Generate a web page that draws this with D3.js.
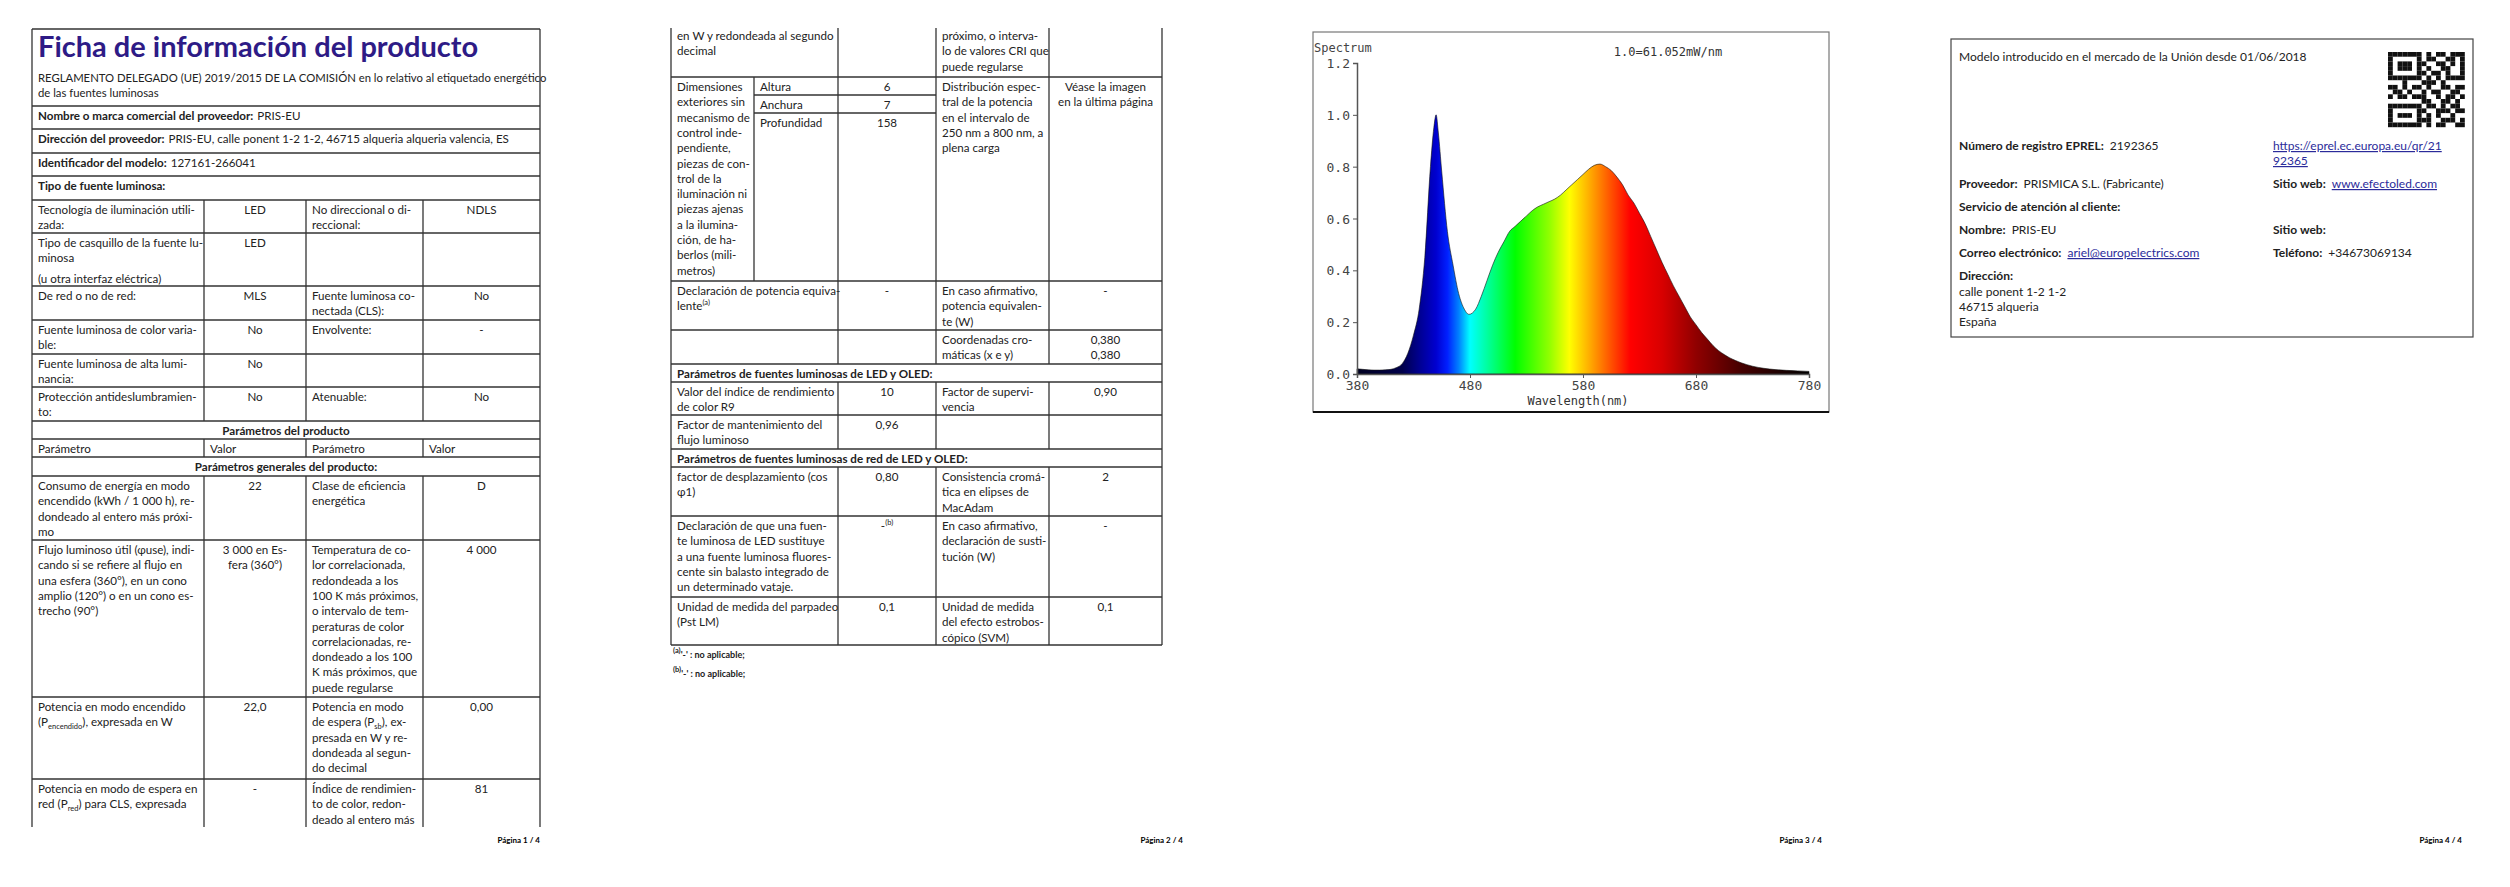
<!DOCTYPE html>
<html><head><meta charset="utf-8">
<script src="https://cdn.jsdelivr.net/npm/d3@7/dist/d3.min.js"></script>
<style>body{margin:0;background:#fff}svg{display:block}</style></head>
<body><svg id="s" width="2510" height="887"></svg>
<script>
// ---------- spectrum data ----------
const wavelengths = [380,385,390,395,400,405,410,415,420,425,430,435,440,445,448,450,452,455,460,465,470,475,479,485,490,495,500,505,510,515,520,525,530,535,540,545,550,555,560,565,570,575,580,585,590,595,600,605,610,615,620,625,630,635,640,645,650,655,660,665,670,675,680,685,690,695,700,705,710,715,720,725,730,740,750,760,770,780];
const spectrum = [.02,.018,.016,.015,.015,.016,.018,.025,.04,.08,.15,.25,.45,.80,.95,1.0,.93,.78,.55,.42,.31,.25,.23,.25,.30,.36,.42,.47,.51,.55,.57,.59,.61,.63,.645,.655,.665,.675,.69,.71,.73,.75,.77,.79,.805,.81,.80,.785,.76,.73,.69,.66,.62,.58,.53,.48,.43,.385,.34,.30,.26,.22,.19,.16,.135,.11,.09,.075,.062,.052,.043,.036,.03,.022,.017,.014,.012,.01];
const xTicks = [380,480,580,680,780];
const yTicks = [0,0.2,0.4,0.6,0.8,1.0,1.2];

const svg = d3.select("#s");
const F = "Lato, 'Open Sans', sans-serif";
const LH = 15.3;
const FS = 11.6;

function richText(g, x, y, str, opts) {
  const t = g.append("text").attr("x", x).attr("y", y)
    .attr("font-family", F).attr("font-size", opts.size || FS)
    .attr("fill", opts.color || "#222").attr("text-anchor", opts.anchor || "start")
    .attr("font-weight", opts.bold ? "bold" : "normal");
  const parts = str.split(/([_^]\{[^}]*\})/).filter(p => p);
  let pending = 0;
  parts.forEach(p => {
    const m = p.match(/^([_^])\{([^}]*)\}$/);
    if (m) {
      const dy = m[1] === "_" ? 3 : -5;
      t.append("tspan").attr("font-size", 7.5).attr("dy", dy - pending).text(m[2]);
      pending = dy;
    } else { t.append("tspan").attr("dy", -pending).text(p); pending = 0; }
  });
  return t;
}

function drawTable(X, rows, closed, firstBase) {
  const g = svg.append("g");
  const L = (x1,y1,x2,y2) => g.append("line").attr("x1",x1).attr("y1",y1).attr("x2",x2).attr("y2",y2)
      .attr("stroke","#333").attr("stroke-width",1.3);
  rows.forEach(r => {
    if (!r.noTop) L(X[0], r.y0, X[X.length-1], r.y0);
    L(X[X.length-1], r.y0, X[X.length-1], r.y1);
    r.cells.forEach(c => {
      const y0 = c.y0 ?? r.y0, y1 = c.y1 ?? r.y1;
      const x0 = X[c.c[0]], x1 = X[c.c[1]];
      if (y0 !== r.y0) L(x0, y0, x1, y0);
      L(x0, y0, x0, y1);
      (c.t || []).forEach((line, i) => {
        const by = y0 + (r.base ?? firstBase) + i * LH + (c.gap && i >= c.gap ? 5 : 0);
        let x = x0 + 6, anchor = "start";
        if (c.a === "c") { x = (x0 + x1) / 2; anchor = "middle"; }
        const parts = line.split("|");
        if (parts.length > 1) {
          const t = richText(g, x, by, parts[0], {bold:true});
          const w = t.node().getComputedTextLength();
          richText(g, x + w + 4, by, parts[1], {});
        } else richText(g, x, by, line, {anchor, bold: c.b});
      });
    });
  });
  if (closed) { const last = rows[rows.length-1]; L(X[0], last.y1, X[X.length-1], last.y1); }
}

// ---------- page 1 ----------
const X1 = [32,204,306,423,540];
const full = (y0,y1,t,opt={}) => ({y0,y1,cells:[Object.assign({c:[0,4],t},opt)]});
const four = (y0,y1,a,b,c,d,gap) => ({y0,y1,cells:[{c:[0,1],t:a,gap},{c:[1,2],t:b,a:"c"},{c:[2,3],t:c},{c:[3,4],t:d,a:"c"}]});
drawTable(X1, [
  {y0:29,y1:106,cells:[{c:[0,4],t:[]}]},
  full(106,129,["Nombre o marca comercial del proveedor:|PRIS-EU"]),
  full(129,153,["Dirección del proveedor:|PRIS-EU, calle ponent 1-2 1-2, 46715 alqueria alqueria valencia, ES"]),
  full(153,176,["Identificador del modelo:|127161-266041"]),
  full(176,200,["Tipo de fuente luminosa:"],{b:true}),
  four(200,233,["Tecnología de iluminación utili-","zada:"],["LED"],["No direccional o di-","reccional:"],["NDLS"]),
  four(233,286,["Tipo de casquillo de la fuente lu-","minosa","(u otra interfaz eléctrica)"],["LED"],[],[],2),
  four(286,320,["De red o no de red:"],["MLS"],["Fuente luminosa co-","nectada (CLS):"],["No"]),
  four(320,354,["Fuente luminosa de color varia-","ble:"],["No"],["Envolvente:"],["-"]),
  four(354,387,["Fuente luminosa de alta lumi-","nancia:"],["No"],[],[]),
  four(387,421,["Protección antideslumbramien-","to:"],["No"],["Atenuable:"],["No"]),
  full(421,439,["Parámetros del producto"],{a:"c",b:true}),
  {y0:439,y1:457,cells:[{c:[0,1],t:["Parámetro"]},{c:[1,2],t:["Valor"]},{c:[2,3],t:["Parámetro"]},{c:[3,4],t:["Valor"]}]},
  full(457,476,["Parámetros generales del producto:"],{a:"c",b:true}),
  four(476,540,["Consumo de energía en modo","encendido (kWh / 1 000 h), re-","dondeado al entero más próxi-","mo"],["22"],["Clase de eficiencia","energética"],["D"]),
  four(540,697,["Flujo luminoso útil (ɸuse), indi-","cando si se refiere al flujo en","una esfera (360°), en un cono","amplio (120°) o en un cono es-","trecho (90°)"],["3 000 en Es-","fera (360°)"],["Temperatura de co-","lor correlacionada,","redondeada a los","100 K más próximos,","o intervalo de tem-","peraturas de color","correlacionadas, re-","dondeado a los 100","K más próximos, que","puede regularse"],["4 000"]),
  four(697,779,["Potencia en modo encendido","(P_{encendido}), expresada en W"],["22,0"],["Potencia en modo","de espera (P_{sb}), ex-","presada en W y re-","dondeada al segun-","do decimal"],["0,00"]),
  four(779,827,["Potencia en modo de espera en","red (P_{red}) para CLS, expresada"],["-"],["Índice de rendimien-","to de color, redon-","deado al entero más"],["81"])
], false, 14);
svg.append("text").attr("x",38).attr("y",57).attr("font-family",F).attr("font-size",29).attr("font-weight","bold")
  .attr("fill","#2e1b86").text("Ficha de información del producto");
richText(svg,38,82,"REGLAMENTO DELEGADO (UE) 2019/2015 DE LA COMISIÓN en lo relativo al etiquetado energético",{size:11.3});
richText(svg,38,97,"de las fuentes luminosas",{size:11.3});

// ---------- page 2 ----------
const X2 = [671,754,838,936,1049,1162];
const four2 = (y0,y1,a,b,c,d) => ({y0,y1,cells:[{c:[0,2],t:a},{c:[2,3],t:b,a:"c"},{c:[3,4],t:c},{c:[4,5],t:d,a:"c"}]});
drawTable(X2, [
  Object.assign(four2(28,77,["en W y redondeada al segundo","decimal"],[],["próximo, o interva-","lo de valores CRI que","puede regularse"],[]),{noTop:true,base:12}),
  {y0:77,y1:281,cells:[
    {c:[0,1],t:["Dimensiones","exteriores sin","mecanismo de","control inde-","pendiente,","piezas de con-","trol de la","iluminación ni","piezas ajenas","a la ilumina-","ción, de ha-","berlos (mili-","metros)"]},
    {c:[1,2],y1:95,t:["Altura"]},{c:[1,2],y0:95,y1:113,t:["Anchura"]},{c:[1,2],y0:113,t:["Profundidad"]},
    {c:[2,3],y1:95,t:["6"],a:"c"},{c:[2,3],y0:95,y1:113,t:["7"],a:"c"},{c:[2,3],y0:113,t:["158"],a:"c"},
    {c:[3,4],t:["Distribución espec-","tral de la potencia","en el intervalo de","250 nm a 800 nm, a","plena carga"]},
    {c:[4,5],t:["Véase la imagen","en la última página"],a:"c"}]},
  four2(281,330,["Declaración de potencia equiva-","lente^{(a)}"],["-"],["En caso afirmativo,","potencia equivalen-","te (W)"],["-"]),
  four2(330,364,[],[],["Coordenadas cro-","máticas (x e y)"],["0,380","0,380"]),
  {y0:364,y1:382,cells:[{c:[0,5],t:["Parámetros de fuentes luminosas de LED y OLED:"],b:true}]},
  four2(382,415,["Valor del índice de rendimiento","de color R9"],["10"],["Factor de supervi-","vencia"],["0,90"]),
  four2(415,449,["Factor de mantenimiento del","flujo luminoso"],["0,96"],[],[]),
  {y0:449,y1:467,cells:[{c:[0,5],t:["Parámetros de fuentes luminosas de red de LED y OLED:"],b:true}]},
  four2(467,516,["factor de desplazamiento (cos","ɸ1)"],["0,80"],["Consistencia cromá-","tica en elipses de","MacAdam"],["2"]),
  four2(516,597,["Declaración de que una fuen-","te luminosa de LED sustituye","a una fuente luminosa fluores-","cente sin balasto integrado de","un determinado vataje."],["-^{(b)}"],["En caso afirmativo,","declaración de susti-","tución (W)"],["-"]),
  four2(597,645,["Unidad de medida del parpadeo","(Pst LM)"],["0,1"],["Unidad de medida","del efecto estrobos-","cópico (SVM)"],["0,1"])
], true, 14);
richText(svg,673,658,"^{(a)}'-' : no aplicable;",{size:9,bold:true});
richText(svg,673,677,"^{(b)}'-' : no aplicable;",{size:9,bold:true});

// page numbers
[[540,1],[1183,2],[1822,3],[2462,4]].forEach(([x,n]) =>
  svg.append("text").attr("x",x).attr("y",843).attr("text-anchor","end").attr("font-family",F)
    .attr("font-size",8).attr("font-weight","bold").text(`Página ${n} / 4`));

// ---------- page 3: spectrum chart ----------
svg.append("rect").attr("x",1313).attr("y",32).attr("width",516).attr("height",380)
  .attr("fill","none").attr("stroke","#777").attr("stroke-width",1.2);
svg.append("line").attr("x1",1313).attr("x2",1829).attr("y1",412).attr("y2",412).attr("stroke","#111").attr("stroke-width",2);
const x = d3.scaleLinear().domain([380,780]).range([1357,1809]);
const y = d3.scaleLinear().domain([0,1.2]).range([374,63]);
const defs = svg.append("defs");
const grad = defs.append("linearGradient").attr("id","spec").attr("gradientUnits","userSpaceOnUse")
  .attr("x1",x(380)).attr("x2",x(780)).attr("y1",0).attr("y2",0);
[[380,"#000020"],[420,"#00004a"],[435,"#000090"],[450,"#0000d0"],[460,"#0020ff"],[470,"#0080ff"],[480,"#00ffff"],
 [495,"#00ffa0"],[520,"#00ff00"],[550,"#90ff00"],[568,"#ffff00"],[585,"#ffb000"],[605,"#ff5000"],[622,"#ff0000"],
 [650,"#d80000"],[680,"#900000"],[720,"#450000"],[780,"#000000"]]
 .forEach(([w,c]) => grad.append("stop").attr("offset",(w-380)/400).attr("stop-color",c));
const pts = wavelengths.map((w,i)=>[w,spectrum[i]]);
svg.append("path").datum(pts).attr("fill","url(#spec)").attr("stroke","#111").attr("stroke-width",0.6)
  .attr("d", d3.area().x(d=>x(d[0])).y0(y(0)).y1(d=>y(d[1])).curve(d3.curveMonotoneX));
const mono = "'DejaVu Sans Mono', 'Liberation Mono', monospace";
const ya = svg.append("g").attr("transform",`translate(${x(380)},0)`)
  .call(d3.axisLeft(y).tickValues(yTicks).tickFormat(d3.format(".1f")).tickSize(4));
const xa = svg.append("g").attr("transform",`translate(0,${y(0)})`)
  .call(d3.axisBottom(x).tickValues(xTicks).tickSize(4));
[ya,xa].forEach(a => { a.select(".domain").attr("stroke","#555").attr("stroke-width",1.5);
  a.selectAll("line").attr("stroke","#555");
  a.selectAll("text").attr("font-family",mono).attr("font-size",13).attr("fill","#444"); });
ya.selectAll("text").attr("dy","0.35em");
svg.append("text").attr("x",1314).attr("y",52).attr("font-family",mono).attr("font-size",12).attr("fill","#444").text("Spectrum");
svg.append("text").attr("x",1668).attr("y",56).attr("text-anchor","middle").attr("font-family",mono).attr("font-size",12).attr("fill","#333").text("1.0=61.052mW/nm");
svg.append("text").attr("x",1578).attr("y",405).attr("text-anchor","middle").attr("font-family",mono).attr("font-size",12).attr("fill","#333").text("Wavelength(nm)");

// ---------- page 4 ----------
svg.append("rect").attr("x",1951).attr("y",39).attr("width",522).attr("height",298).attr("fill","none").attr("stroke","#444").attr("stroke-width",1.2);
const p4 = svg.append("g");
richText(p4,1959,61,"Modelo introducido en el mercado de la Unión desde 01/06/2018",{size:12});
const qr = p4.append("g").attr("transform","translate(2388,52)");
const qrRows = ["1111111010110111","1000001011001101","1011101100110101","1011101010011001","1000001101101001","1111111010101111","0001000111010000","1101011010011011","0110100101100110","1011011100101101","0000000110011010","1111111011010110","1000001100111011","1011101010100100","1000001110011101","1111111010110011"];
qrRows.forEach((r,i)=>r.split("").forEach((b,j)=>{ if(b==="1") qr.append("rect").attr("x",j*4.8).attr("y",i*4.7).attr("width",4.8).attr("height",4.7).attr("fill","#111");}));
const lab = (x0,yy,l,v,link) => { const t = richText(p4,x0,yy,l,{bold:true,size:12});
  if (v) { const w = t.node().getComputedTextLength();
    const tv = richText(p4,x0+w+6,yy,v,{size:12,color: link ? "#2b2b9a" : "#222"}); if (link) tv.attr("text-decoration","underline"); } };
lab(1959,150,"Número de registro EPREL:","2192365");
richText(p4,2273,150,"https://eprel.ec.europa.eu/qr/21",{size:12,color:"#2b2b9a"}).attr("text-decoration","underline");
richText(p4,2273,165,"92365",{size:12,color:"#2b2b9a"}).attr("text-decoration","underline");
lab(1959,188,"Proveedor:","PRISMICA S.L. (Fabricante)");
lab(2273,188,"Sitio web:","www.efectoled.com",true);
lab(1959,211,"Servicio de atención al cliente:");
lab(1959,234,"Nombre:","PRIS-EU");
lab(2273,234,"Sitio web:");
lab(1959,257,"Correo electrónico:","ariel@europelectrics.com",true);
lab(2273,257,"Teléfono:","+34673069134");
lab(1959,280,"Dirección:");
["calle ponent 1-2 1-2","46715 alqueria","España"].forEach((s,i)=>richText(p4,1959,296+i*15,s,{size:12}));
</script></body></html>
